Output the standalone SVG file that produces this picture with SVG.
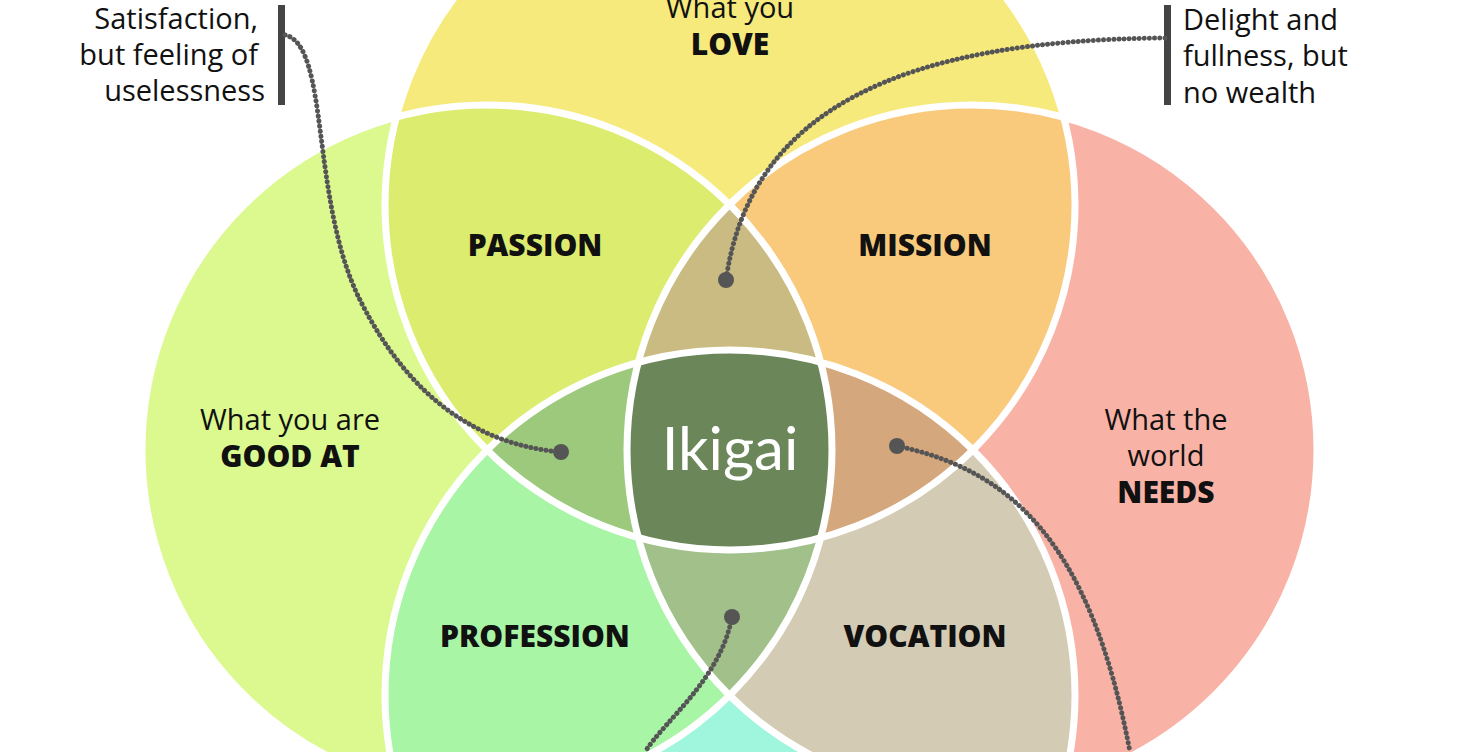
<svg xmlns="http://www.w3.org/2000/svg" width="1460" height="752" viewBox="0 0 1460 752">
<style>
text{font-family:"Open Sans","Liberation Sans",sans-serif;fill:#111}
.n{font-size:29px}
.b{font-size:30px;font-weight:800}
.c{text-anchor:middle}
.r{text-anchor:end}
.ring{fill:none;stroke:#fff;stroke-width:7}
.dot{fill:none;stroke:#555;stroke-width:5;stroke-dasharray:0.1 5;stroke-linecap:round}
</style>
<defs>
<clipPath id="cA"><circle cx="730" cy="205" r="345"/></clipPath>
<clipPath id="cB"><circle cx="487" cy="450" r="345"/></clipPath>
<clipPath id="cC"><circle cx="972" cy="450" r="345"/></clipPath>
<clipPath id="cD"><circle cx="730" cy="695" r="345"/></clipPath>
</defs>
<rect width="1460" height="752" fill="#fff"/>
<g id="circles">
<circle cx="730" cy="205" r="345" fill="#f7ea7c"/>
<circle cx="487" cy="450" r="345" fill="#dbf98f"/>
<circle cx="972" cy="450" r="345" fill="#f9b3a6"/>
<circle cx="730" cy="695" r="345" fill="#a0f5dd"/>
<g clip-path="url(#cD)"><circle cx="487" cy="450" r="345" fill="#a8f5a6"/></g>
<g clip-path="url(#cA)"><circle cx="487" cy="450" r="345" fill="#dcec6e"/></g>
<g clip-path="url(#cA)"><circle cx="972" cy="450" r="345" fill="#f9c97c"/></g>
<g clip-path="url(#cD)"><circle cx="972" cy="450" r="345" fill="#d4cbb4"/></g>
<g clip-path="url(#cA)"><circle cx="730" cy="695" r="345" fill="#c2c08a"/></g>
<g clip-path="url(#cB)"><circle cx="972" cy="450" r="345" fill="#c2c08a"/></g>
<g clip-path="url(#cA)"><g clip-path="url(#cB)"><circle cx="972" cy="450" r="345" fill="#c9bb82"/></g></g>
<g clip-path="url(#cA)"><g clip-path="url(#cB)"><circle cx="730" cy="695" r="345" fill="#9cc97c"/></g></g>
<g clip-path="url(#cA)"><g clip-path="url(#cC)"><circle cx="730" cy="695" r="345" fill="#d4a77c"/></g></g>
<g clip-path="url(#cD)"><g clip-path="url(#cB)"><circle cx="972" cy="450" r="345" fill="#a1c08a"/></g></g>
<g clip-path="url(#cA)"><g clip-path="url(#cB)"><g clip-path="url(#cC)"><circle cx="730" cy="695" r="345" fill="#6b875a"/></g></g></g>
<circle class="ring" cx="730" cy="205" r="345"/>
<circle class="ring" cx="487" cy="450" r="345"/>
<circle class="ring" cx="972" cy="450" r="345"/>
<circle class="ring" cx="730" cy="695" r="345"/>
</g>
<g id="labels">
<text class="n c" x="730" y="18">What you</text>
<text class="b c" x="730" y="55">LOVE</text>
<text class="n c" x="290" y="430">What you are</text>
<text class="b c" x="290" y="467">GOOD AT</text>
<text class="n c" x="1166" y="430">What the</text>
<text class="n c" x="1166" y="466">world</text>
<text class="b c" x="1166" y="503">NEEDS</text>
<text class="b c" x="535" y="256">PASSION</text>
<text class="b c" x="925" y="256">MISSION</text>
<text class="b c" x="535" y="647">PROFESSION</text>
<text class="b c" x="925" y="647">VOCATION</text>
<text class="c" x="730" y="470" style="font-size:60px;fill:#fff;font-family:'Lato','Open Sans',sans-serif">Ikigai</text>
</g>
<g id="note-left">
<text class="n r" x="258" y="29">Satisfaction,</text>
<text class="n r" x="258" y="65">but feeling of</text>
<text class="n r" x="265" y="101">uselessness</text>
<rect x="278" y="5" width="7" height="100" fill="#444"/>
</g>
<g id="note-right">
<rect x="1164" y="5" width="7" height="100" fill="#444"/>
<text class="n" x="1183" y="30">Delight and</text>
<text class="n" x="1183" y="66">fullness, but</text>
<text class="n" x="1183" y="103">no wealth</text>
</g>
<g id="connectors">
<path class="dot" d="M285,35 C330,45 310,200 360,300 S480,445 561,452"/>
<path class="dot" d="M1165,38 C900,40 750,110 726,280"/>
<path class="dot" d="M897,446 C1010,470 1090,540 1130,752"/>
<path class="dot" d="M732,617 C720,680 665,720 645,752"/>
<circle cx="561" cy="452" r="8" fill="#555"/>
<circle cx="726" cy="280" r="8" fill="#555"/>
<circle cx="897" cy="446" r="8" fill="#555"/>
<circle cx="732" cy="617" r="8" fill="#555"/>
</g>
</svg>
